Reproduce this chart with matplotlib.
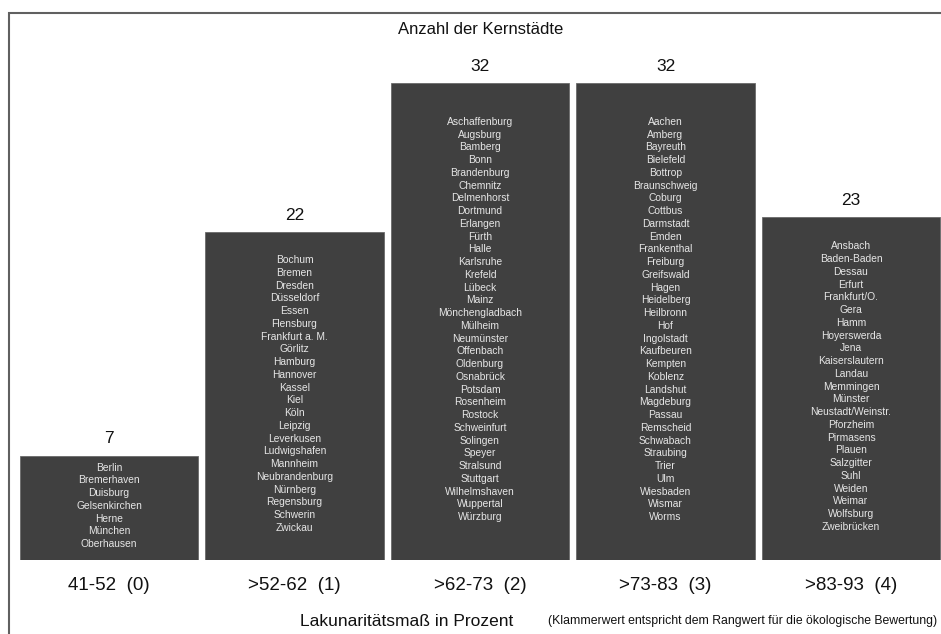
import matplotlib.pyplot as plt
from matplotlib.patches import Rectangle

# Daten: Klassen des Lakunaritätsmaßes und zugehörige Kernstädte
klassen = ['41-52  (0)', '>52-62  (1)', '>62-73  (2)', '>73-83  (3)', '>83-93  (4)']

staedte_0 = ['Berlin', 'Bremerhaven', 'Duisburg', 'Gelsenkirchen', 'Herne',
             'München', 'Oberhausen']
staedte_1 = ['Bochum', 'Bremen', 'Dresden', 'Düsseldorf', 'Essen', 'Flensburg',
             'Frankfurt a. M.', 'Görlitz', 'Hamburg', 'Hannover', 'Kassel', 'Kiel',
             'Köln', 'Leipzig', 'Leverkusen', 'Ludwigshafen', 'Mannheim',
             'Neubrandenburg', 'Nürnberg', 'Regensburg', 'Schwerin', 'Zwickau']
staedte_2 = ['Aschaffenburg', 'Augsburg', 'Bamberg', 'Bonn', 'Brandenburg',
             'Chemnitz', 'Delmenhorst', 'Dortmund', 'Erlangen', 'Fürth', 'Halle',
             'Karlsruhe', 'Krefeld', 'Lübeck', 'Mainz', 'Mönchengladbach',
             'Mülheim', 'Neumünster', 'Offenbach', 'Oldenburg', 'Osnabrück',
             'Potsdam', 'Rosenheim', 'Rostock', 'Schweinfurt', 'Solingen',
             'Speyer', 'Stralsund', 'Stuttgart', 'Wilhelmshaven', 'Wuppertal',
             'Würzburg']
staedte_3 = ['Aachen', 'Amberg', 'Bayreuth', 'Bielefeld', 'Bottrop',
             'Braunschweig', 'Coburg', 'Cottbus', 'Darmstadt', 'Emden',
             'Frankenthal', 'Freiburg', 'Greifswald', 'Hagen', 'Heidelberg',
             'Heilbronn', 'Hof', 'Ingolstadt', 'Kaufbeuren', 'Kempten', 'Koblenz',
             'Landshut', 'Magdeburg', 'Passau', 'Remscheid', 'Schwabach',
             'Straubing', 'Trier', 'Ulm', 'Wiesbaden', 'Wismar', 'Worms']
staedte_4 = ['Ansbach', 'Baden-Baden', 'Dessau', 'Erfurt', 'Frankfurt/O.', 'Gera',
             'Hamm', 'Hoyerswerda', 'Jena', 'Kaiserslautern', 'Landau',
             'Memmingen', 'Münster', 'Neustadt/Weinstr.', 'Pforzheim',
             'Pirmasens', 'Plauen', 'Salzgitter', 'Suhl', 'Weiden', 'Weimar',
             'Wolfsburg', 'Zweibrücken']

staedte = [staedte_0, staedte_1, staedte_2, staedte_3, staedte_4]
anzahl = [len(s) for s in staedte]

plt.rcParams['font.family'] = ['Liberation Sans', 'DejaVu Sans']

W, H = 941, 634
fig = plt.figure(figsize=(W / 100, H / 100), dpi=100)

# Rahmen um die Grafik (rechts und unten außerhalb des Bildes)
fig.patches.append(Rectangle((8.5 / W, -0.05), 1.1, 1 - 12.5 / H + 0.05,
                             transform=fig.transFigure, fill=False,
                             edgecolor='#606060', linewidth=1.5))

# Achse: Balkenbereich
schritt = 185.5
px_pro_stadt = 14.9
unten = 560
oben = 60
ax = fig.add_axes([16.25 / W, 1 - unten / H, 5 * schritt / W, (unten - oben) / H])
ax.set_xlim(-0.5, 4.5)
ax.set_ylim(0, (unten - oben) / px_pro_stadt)
ax.axis('off')

x = list(range(len(klassen)))
ax.bar(x, anzahl, width=0.96, color='#404040', edgecolor='#6a6a6a', linewidth=0.6)

zeilenabstand = 12.75 * 72 / 100  # in Punkten
for i, (n, namen) in enumerate(zip(anzahl, staedte)):
    # Anzahl über dem Balken
    ax.annotate(str(n), (i, n), xytext=(0, 12.2), textcoords='offset points',
                ha='center', va='center', fontsize=12.5, color='#111111')
    # Städtenamen vertikal zentriert im Balken
    for k, name in enumerate(namen):
        dy = ((len(namen) - 1) / 2 - k) * zeilenabstand + 1.5
        ax.annotate(name, (i, n / 2), xytext=(0, dy), textcoords='offset points',
                    ha='center', va='center', fontsize=7.4, color='#e6e6e6')
    # Klassenbeschriftung unter dem Balken
    ax.annotate(klassen[i], (i, 0), xytext=(0, -26 * 72 / 100),
                textcoords='offset points', ha='center', va='center',
                fontsize=13.5, color='#111111')

fig.text(481 / W, 1 - 30 / H, 'Anzahl der Kernstädte', ha='center', va='center',
         fontsize=12, color='#111111')
fig.text(407 / W, 1 - 621 / H, 'Lakunaritätsmaß in Prozent', ha='center',
         va='center', fontsize=12.5, color='#111111')
fig.text(937 / W, 1 - 621 / H,
         '(Klammerwert entspricht dem Rangwert für die ökologische Bewertung)',
         ha='right', va='center', fontsize=8.8, color='#111111')

plt.savefig('out.png', dpi=100)
